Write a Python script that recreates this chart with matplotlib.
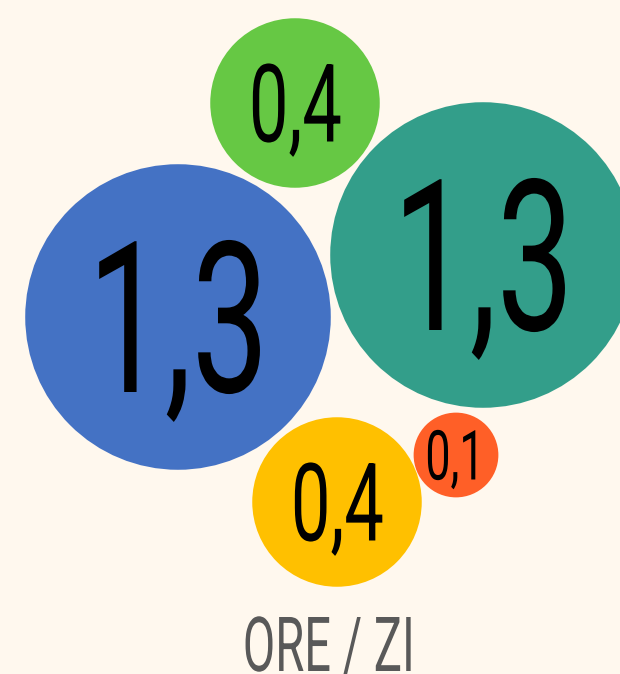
import numpy as np
import matplotlib
matplotlib.use("Agg")
import matplotlib.pyplot as plt
import matplotlib.patheffects as pe
from matplotlib.patches import Circle
from matplotlib.transforms import Affine2D

# ore pe zi, pe categorii
values = [1.3, 1.3, 0.4, 0.4, 0.1]
colors = ["#4472C4", "#339E8A", "#66C844", "#FFC000", "#FF5F27"]
title = "ORE / ZI"

# asezarea bulelor (pixeli)
cx = [178, 483, 295, 337, 456]
cy = [317, 255, 103, 502, 455]
cap_px = [150, 150, 77, 77, 49]   # inaltimea cifrelor
k = 134  # raza = k * sqrt(valoare)

FONT = "Roboto"
CAP = 0.711   # cap height / em pt Roboto
SHRINK = 0.85  # fontul e desenat mai mic si intins pe verticala


class Condensed(pe.AbstractPathEffect):
    # fontul original e condensed: ingustam textul pe orizontala
    def __init__(self, sx, sy=1.0, lw=0.0):
        super().__init__()
        self.sx, self.sy, self.lw = sx, sy, lw

    def draw_path(self, renderer, gc, tpath, affine, rgbFace=None):
        ext = tpath.get_extents(affine)
        mid = (ext.x0 + ext.x1) / 2
        base = affine.transform((0, 0))[1]
        sq = (Affine2D().translate(-mid, -base)
              .scale(self.sx, self.sy).translate(mid, base))
        gc0 = renderer.new_gc()
        gc0.copy_properties(gc)
        if self.lw > 0:
            gc0.set_linewidth(self.lw)
            gc0.set_foreground(rgbFace)
            gc0.set_joinstyle("round")
        renderer.draw_path(gc0, tpath, affine + sq, rgbFace)
        gc0.restore()


bg = "#FFF8EE"
fig = plt.figure(figsize=(6.2, 6.74), dpi=100, facecolor=bg)
ax = fig.add_axes([0, 0, 1, 1])
ax.set_facecolor(bg)
ax.set_xlim(0, 620)
ax.set_ylim(674, 0)
ax.axis("off")

for v, c, x, y, cap in zip(values, colors, cx, cy, cap_px):
    ax.add_patch(Circle((x, y), k * np.sqrt(v), facecolor=c, edgecolor="none"))
    fs = cap / CAP * 0.72 * SHRINK
    ax.text(x, y + cap / 2, f"{v:.1f}".replace(".", ","), ha="center", va="baseline",
            fontsize=fs, color="black", family=FONT, fontweight="normal",
            path_effects=[Condensed(0.65 / SHRINK, 1 / SHRINK)])

ax.text(329, 671, title, ha="center", va="baseline", fontsize=54 / CAP * 0.72 * SHRINK,
        color="#595959", family=FONT, fontweight="normal",
        path_effects=[Condensed(0.62 / SHRINK, 1 / SHRINK)])

fig.savefig("out.png", dpi=100, facecolor=bg)
